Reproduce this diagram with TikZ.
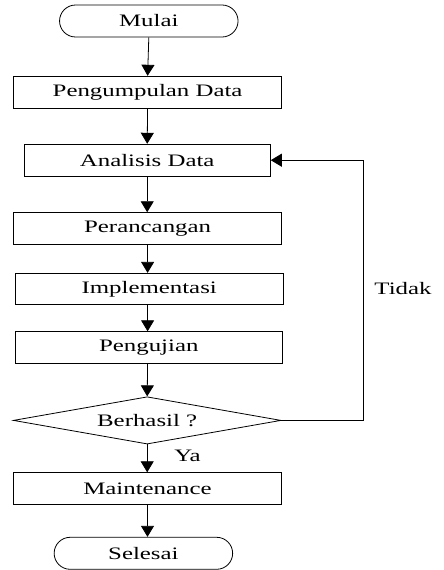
\documentclass[tikz,border=0pt]{standalone}
\usepackage{fontspec}
\setmainfont{Liberation Serif}[FakeStretch=1.42]
\usetikzlibrary{shapes.geometric,arrows.meta}
\begin{document}
\begin{tikzpicture}[x=1pt,y=-1pt,
  every node/.style={font=\fontsize{17.5}{20}\selectfont, inner sep=0pt},
  box/.style={draw, line width=0.8pt, minimum height=32pt},
  term/.style={draw, line width=0.8pt, rounded corners=16pt, minimum width=178.5pt, minimum height=32pt},
  dec/.style={draw, diamond, aspect=5.66, line width=0.8pt, minimum width=267.7pt, minimum height=47.3pt},
  arr/.style={line width=0.8pt, -{Triangle[length=11pt,width=13pt]}},
  lbl/.style={}]
\useasboundingbox (0,0) rectangle (444,570);
\node[term] (mulai) at (148.8,21) {Mulai};
\node[box, minimum width=268pt] (pd) at (147.6,92.2) {Pengumpulan Data};
\node[box, minimum width=246.3pt] (ad) at (147.2,160.2) {Analisis Data};
\node[box, minimum width=268pt, minimum height=31.3pt] (per) at (147.6,228.3) {Perancangan};
\node[box, minimum width=267.7pt, minimum height=31pt] (imp) at (149.2,288.8) {Implementasi};
\node[box, minimum width=267pt, minimum height=31.6pt] (uji) at (148.8,347.5) {Pengujian};
\node[dec] (ok) at (147.2,420.4) {Berhasil ?};
\node[box, minimum width=268.4pt] (mt) at (147.5,488.7) {Maintenance};
\node[term] (end) at (143.4,553.3) {Selesai};
\node[lbl] (ya) at (187.5,456) {Ya};
\node[lbl] (tidak) at (403,289) {Tidak};
\coordinate (c1) at (363,420.4);
\coordinate (c2) at (363,160.2);
\draw[arr] (mulai.south) -- (pd.north);
\draw[arr] (pd.south) -- (ad.north);
\draw[arr] (ad.south) -- (ad.south |- per.north);
\draw[arr] (per.south) -- (per.south |- imp.north);
\draw[arr] (imp.south -| per.south) -- (per.south |- uji.north);
\draw[arr] (uji.south -| per.south) -- (ok.north);
\draw[arr] (ok.south) -- (ok.south |- mt.north);
\draw[arr] (mt.south) -- (mt.south |- end.north);
\draw[arr] (ok.east) -- (c1) -- (c2) -- (ad.east);
\end{tikzpicture}
\end{document}
